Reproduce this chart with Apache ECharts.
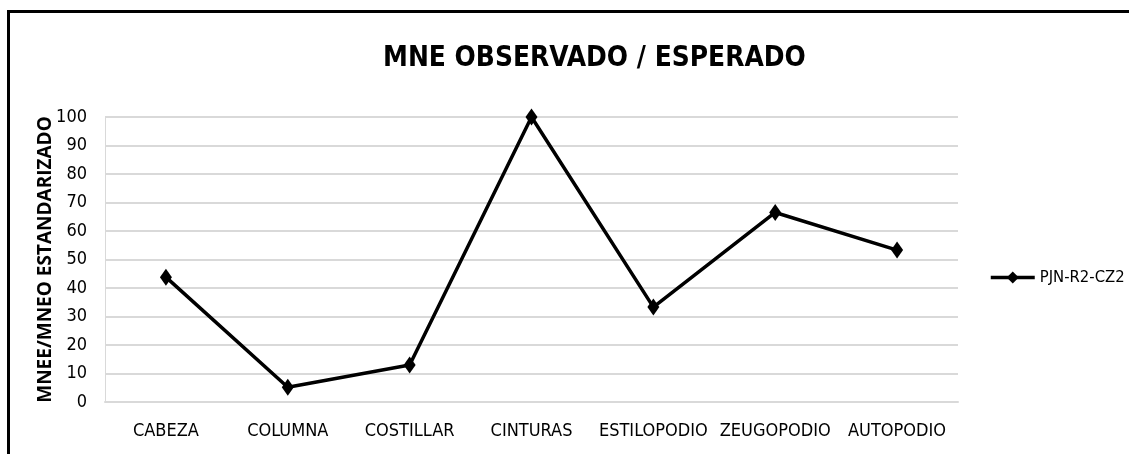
<!DOCTYPE html>
<html>
<head>
<meta charset="utf-8">
<script src="https://cdn.jsdelivr.net/npm/echarts@6/dist/echarts.min.js"></script>
<style>
  html, body { margin: 0; padding: 0; background: #fff; }
  #chart { width: 1129px; height: 454px; }
</style>
</head>
<body>
<div id="chart"></div>
<script>
// Skeletal regions along the body
const categories = ['CABEZA', 'COLUMNA', 'COSTILLAR', 'CINTURAS', 'ESTILOPODIO', 'ZEUGOPODIO', 'AUTOPODIO'];
// Standardised MNE observed / expected (%)
const seriesName = 'PJN-R2-CZ2';
const values = [43.8, 5.2, 13.0, 100, 33.3, 66.5, 53.3];
// Value axis settings
const yMin = 0;
const yMax = 100;
const yStep = 10;

const narrow = '"DejaVu Sans Condensed", "Liberation Sans Narrow", "Liberation Sans", sans-serif';

const chart = echarts.init(document.getElementById('chart'), null, { renderer: 'canvas' });
chart.setOption({
  backgroundColor: '#ffffff',
  animation: false,
  title: {
    text: 'MNE OBSERVADO / ESPERADO',
    left: 378,
    top: 40,
    textStyle: { fontFamily: narrow, fontWeight: 'bold', fontSize: 27.8, color: '#000' }
  },
  legend: {
    data: [seriesName],
    left: 984,
    top: 264,
    itemWidth: 44,
    itemHeight: 15,
    itemGap: 2,
    lineStyle: { width: 3.5, color: '#000' },
    textStyle: { fontFamily: narrow, fontSize: 16.5, color: '#000' }
  },
  grid: { left: 105, right: 171, top: 117, bottom: 52, containLabel: false },
  xAxis: {
    type: 'category',
    data: categories,
    boundaryGap: true,
    axisLine: { show: true, lineStyle: { color: '#d9d9d9', width: 2 } },
    axisTick: { show: false },
    axisLabel: { fontFamily: narrow, fontSize: 18, color: '#000', margin: 20, interval: 0 }
  },
  yAxis: {
    type: 'value',
    min: yMin,
    max: yMax,
    interval: yStep,
    name: 'MNEE/MNEO ESTANDARIZADO',
    nameLocation: 'middle',
    nameRotate: 90,
    nameGap: 50,
    nameMoveOverlap: false,
    nameTextStyle: { fontFamily: '"Open Sans", sans-serif', fontWeight: 'bold', fontSize: 19, color: '#000' },
    axisLine: { show: true, lineStyle: { color: '#d9d9d9', width: 1 } },
    axisTick: { show: false },
    axisLabel: { fontFamily: narrow, fontSize: 18, color: '#000', margin: 18 },
    splitLine: { show: true, lineStyle: { color: '#d9d9d9', width: 2 } }
  },
  series: [{
    name: seriesName,
    type: 'line',
    data: values,
    symbol: 'diamond',
    symbolSize: [12, 17],
    itemStyle: { color: '#000' },
    lineStyle: { color: '#000', width: 3.5 }
  }],
  graphic: [{
    type: 'rect',
    shape: { x: 8.5, y: 11.5, width: 1200, height: 500 },
    style: { fill: null, stroke: '#000', lineWidth: 3 },
    silent: true,
    z: 100
  }]
});
</script>
</body>
</html>
